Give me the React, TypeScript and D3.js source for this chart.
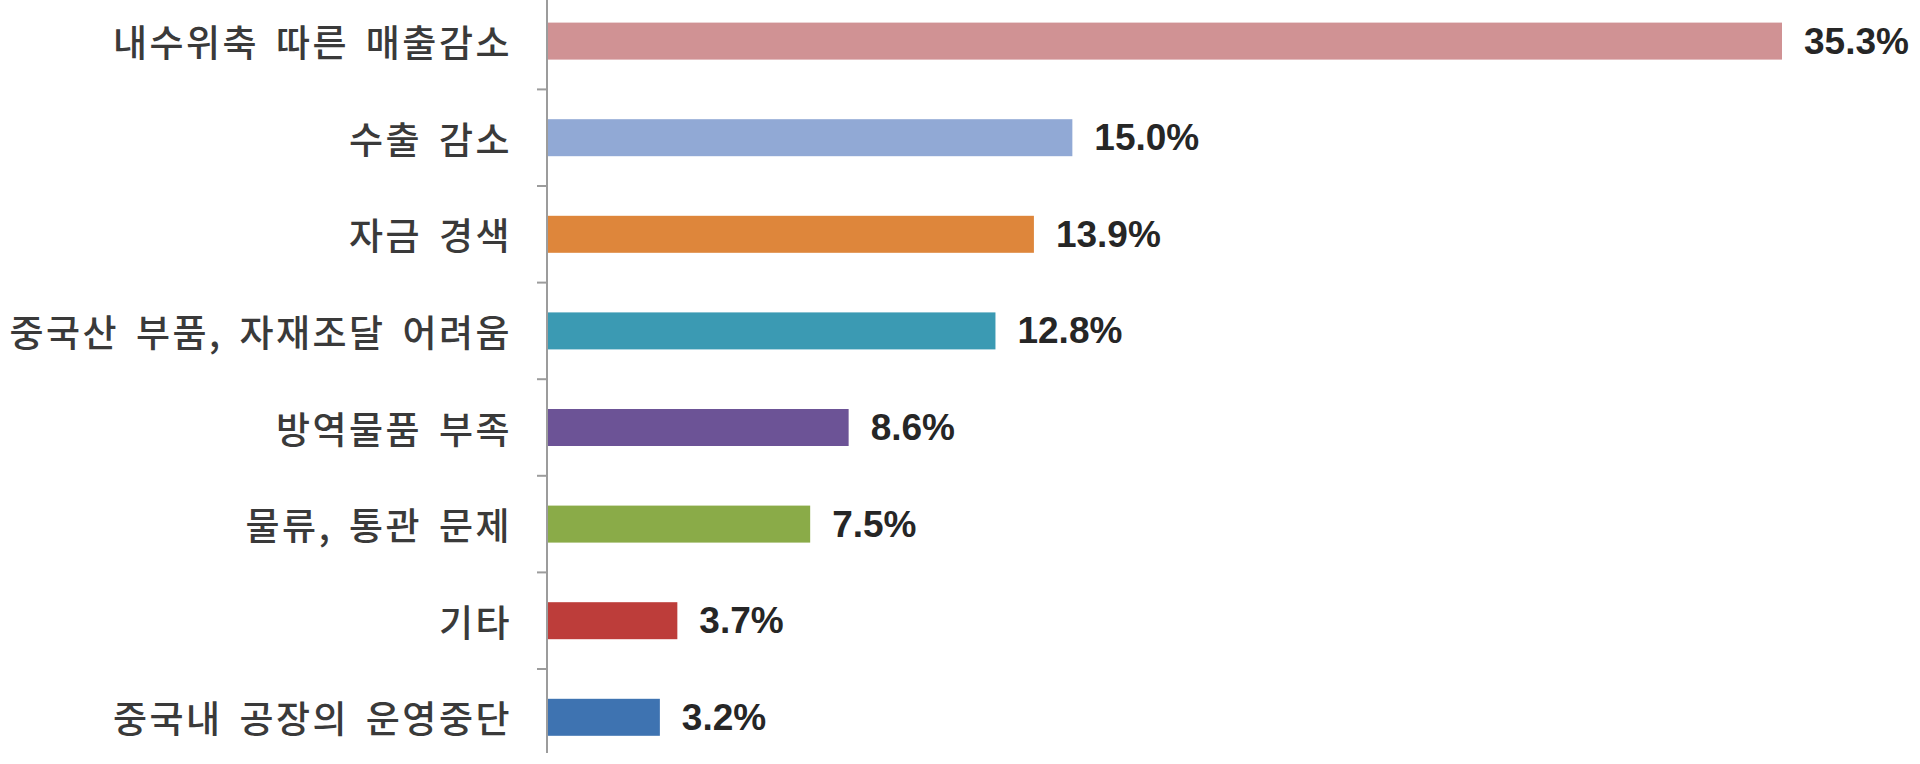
import React, { useEffect, useRef } from 'react';
import * as d3 from 'd3';

const categories = [
  '내수위축 따른 매출감소',
  '수출 감소',
  '자금 경색',
  '중국산 부품, 자재조달 어려움',
  '방역물품 부족',
  '물류, 통관 문제',
  '기타',
  '중국내 공장의 운영중단',
];
const values = [35.3, 15.0, 13.9, 12.8, 8.6, 7.5, 3.7, 3.2];
const barColors = ['#d09294', '#91a9d5', '#de863b', '#3b9ab3', '#6c5396', '#8aab48', '#bd3d3a', '#3e73b1'];

const WIDTH = 1920;
const HEIGHT = 764;

const App: React.FC = () => {
  const svgRef = useRef<SVGSVGElement>(null);

  useEffect(() => {
    if (!svgRef.current) return;
    const svg = d3.select(svgRef.current);
    svg.selectAll('*').remove();

    const axisX = 547;
    const x = d3.scaleLinear().domain([0, 35.3]).range([axisX + 1, 1782]);
    const y = d3.scaleBand<string>()
      .domain(categories)
      .range([-7.2, 765.6])
      .paddingInner(0.617)
      .paddingOuter(0.3085);

    const step = y.step();
    const rows = categories.map((c, i) => ({ cat: c, val: values[i], color: barColors[i] }));

    // bars
    svg.append('g')
      .selectAll('rect')
      .data(rows)
      .enter()
      .append('rect')
      .attr('x', x(0))
      .attr('y', d => y(d.cat)!)
      .attr('width', d => x(d.val) - x(0))
      .attr('height', y.bandwidth())
      .attr('fill', d => d.color);

    // category axis line + ticks between bands
    const axis = svg.append('g');
    axis.append('line')
      .attr('x1', axisX).attr('x2', axisX)
      .attr('y1', 0).attr('y2', 753)
      .attr('stroke', '#9c9c9c')
      .attr('stroke-width', 2);
    axis.selectAll('.tick')
      .data(categories.slice(1))
      .enter()
      .append('line')
      .attr('x1', axisX - 10).attr('x2', axisX)
      .attr('y1', d => y(d)! - (step - y.bandwidth()) / 2)
      .attr('y2', d => y(d)! - (step - y.bandwidth()) / 2)
      .attr('stroke', '#9c9c9c')
      .attr('stroke-width', 2);

    // category labels
    svg.append('g')
      .selectAll('text')
      .data(rows)
      .enter()
      .append('text')
      .attr('x', axisX - 35)
      .attr('y', d => y(d.cat)! + y.bandwidth() / 2)
      .attr('text-anchor', 'end')
      .attr('dominant-baseline', 'central')
      .attr('font-family', '"Noto Sans CJK KR", "Noto Sans", sans-serif')
      .attr('font-size', 37)
      .attr('font-weight', 500)
      .attr('letter-spacing', '2.5px')
      .attr('word-spacing', '6px')
      .attr('fill', '#3a3a3a')
      .text(d => d.cat);

    // value labels
    const fmt = d3.format('.1f');
    svg.append('g')
      .selectAll('text')
      .data(rows)
      .enter()
      .append('text')
      .attr('x', d => x(d.val) + 22)
      .attr('y', d => y(d.cat)! + y.bandwidth() / 2)
      .attr('dominant-baseline', 'central')
      .attr('font-family', '"Liberation Sans", Arial, sans-serif')
      .attr('font-size', 37)
      .attr('font-weight', 'bold')
      .attr('fill', '#262626')
      .text(d => `${fmt(d.val)}%`);
  }, []);

  return (
    <svg
      ref={svgRef}
      width={WIDTH}
      height={HEIGHT}
      style={{ position: 'absolute', left: 0, top: 0, background: '#ffffff' }}
    />
  );
};

export default App;
